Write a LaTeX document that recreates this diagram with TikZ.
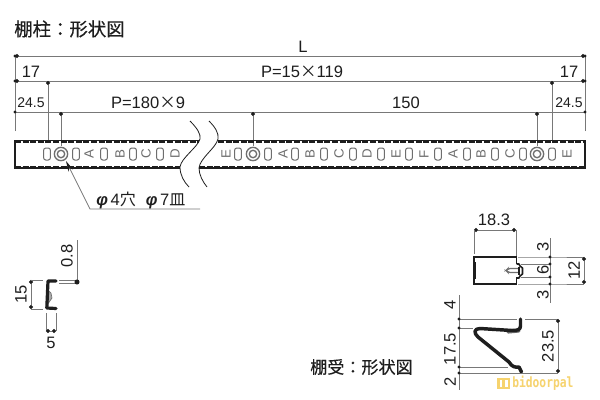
\documentclass[tikz,border=0pt]{standalone}
\usepackage{fontspec}
\usetikzlibrary{arrows.meta}
\setmainfont{Liberation Sans}
\newfontfamily\cjk{Noto Sans CJK JP}
\newfontfamily\cjkb[FakeBold=0.35]{Noto Sans CJK JP}
\definecolor{dimc}{HTML}{787878}
\definecolor{slotc}{HTML}{6E6E6E}
\definecolor{inkc}{HTML}{1E1E1E}
\definecolor{markc}{HTML}{F6D36E}
\tikzset{
  dimline/.style={draw=dimc,line width=0.6pt},
  dd/.style={dimline,{Circle[length=3pt,width=3pt,fill=inkc,color=inkc]}-{Circle[length=3pt,width=3pt,fill=inkc,color=inkc]}},
  dn/.style={dimline,{Circle[length=3pt,width=3pt,fill=inkc,color=inkc]}-},
  lab/.style={inner sep=0pt,text=inkc,font=\fontsize{12.4}{14}\selectfont},
  labs/.style={inner sep=0pt,text=inkc,font=\fontsize{10.5}{12}\selectfont},
  rlab/.style={lab,rotate=90},
  title/.style={inner sep=0pt,text=inkc,font=\fontsize{13.8}{15}\cjkb},
  slot/.style={draw=slotc,line width=0.75pt,rounded corners=1.6pt,minimum width=5pt,minimum height=9pt,inner sep=0pt},
  letter/.style={inner sep=0pt,text=slotc,rotate=90,font=\fontsize{10}{10}\selectfont},
  hole/.style={draw=slotc,line width=1pt,circle,inner sep=0pt},
  rail/.style={draw=inkc,line width=1.3pt,line cap=butt},
  railin/.style={draw=inkc,line width=0.9pt,dash pattern=on 4.5pt off 1.2pt},
  breakline/.style={draw=inkc,line width=0.6pt},
  thickprof/.style={draw=inkc,line width=2.2pt,line join=round,line cap=round}
}
\begin{document}
\begin{tikzpicture}[x=0.75pt,y=-0.75pt]
\useasboundingbox (0,0) rectangle (600,400);
\fill[white] (0,0) rectangle (600,400);

% ---- titles
\node[title,anchor=west] (t1) at (14,29) {棚柱：形状図};
\node[title,anchor=west,font=\fontsize{12.8}{15}\cjkb] (t2) at (310,367) {棚受：形状図};

% ---- reference points, long rail
\coordinate (L1) at (15,56);  \coordinate (R1) at (585,56);
\coordinate (L2) at (15,81);  \coordinate (R2) at (585,81);
\coordinate (L3) at (15,112); \coordinate (R3) at (585,112);
\coordinate (Lb) at (15,131); \coordinate (Rb) at (585,131);
\coordinate (a17) at (48,81);  \coordinate (a17b) at (48,140);
\coordinate (b17) at (552,81); \coordinate (b17b) at (552,140);
\coordinate (h1) at (61,112);  \coordinate (h1b) at (61,146);
\coordinate (h2) at (253,112); \coordinate (h2b) at (253,146);
\coordinate (h3) at (537,112); \coordinate (h3b) at (537,146);

\draw[dimline] (Lb) -- (L1);
\draw[dimline] (Rb) -- (R1);
\draw[dd] (L1) -- (R1);
\draw[dd] (L2) -- (R2);
\draw[dimline] (L3) -- (R3);
\foreach \p in {L1,R1,L2,R2,L3,R3} \fill[inkc] (\p) circle (1.2pt);
\draw[dn] (a17) -- (a17b);
\draw[dn] (b17) -- (b17b);
\draw[dn] (h1) -- (h1b);
\draw[dn] (h2) -- (h2b);
\draw[dn] (h3) -- (h3b);

\node[lab] (lL) at (303,47) {L};
\node[lab] (l17a) at (31,72) {17};
\node[lab] (l17b) at (569,72) {17};
\node[lab] (lp15) at (302,72) {P=15{\cjk ×}119};
\node[labs] (l24a) at (31,103) {24.5};
\node[labs] (l24b) at (569,103) {24.5};
\node[lab] (lp180) at (148,103) {P=180{\cjk ×}9};
\node[lab] (l150) at (406,103) {150};

% ---- rail body
\draw[rail] (199,140.5) -- (15,140.5) -- (15,168) -- (180,168);
\draw[rail] (218,140.5) -- (585,140.5) -- (585,168) -- (199,168);
\draw[railin] (15,142) -- (199,142);
\draw[railin] (15,166.5) -- (180,166.5);
\draw[railin] (218,142) -- (585,142);
\draw[railin] (199,166.5) -- (585,166.5);

% ---- break lines
\draw[breakline] (190,121) .. controls (197,128) and (201,134) .. (200,139) .. controls (198,147) and (181,158) .. (180,167) .. controls (180,175) and (184,182) .. (189,187);
\draw[breakline] (209,121) .. controls (215,127) and (219,133) .. (218,139) .. controls (216,148) and (200,158) .. (199,168) .. controls (199,175) and (203,182) .. (207,187);

% ---- slots, holes, letters
\foreach \x in {47,76,104,133,160,238,268,295,324,353,381,409,438,467,495,523,552}
  \node[slot] (s\x) at (\x,154) {};
\foreach \x in {61,253,537} {
  \node[hole,minimum size=10pt] (ho\x) at (\x,154) {};
  \node[hole,minimum size=5.6pt] (hi\x) at (\x,154) {};
}
\foreach \x/\c in {89/A,120/B,146/C,175/D,226/E,283/A,310/B,339/C,367/D,396/E,424/F,453/A,481/B,510/C,567/E}
  \node[letter] (c\x) at (\x,154) {\c};

% ---- hole leader
\coordinate (la) at (66,161);
\coordinate (lb) at (90,209);
\coordinate (lc) at (200,209);
\draw[dimline,{Stealth[length=8pt,width=3.8pt,color=inkc]}-] (la) -- (lb) -- (lc);
\node[lab,anchor=west] (lphi) at (96,200) {\textbf{\textit{φ}}\,4{\cjk\fontsize{12}{14}\selectfont 穴}\hspace{0.6em}\textbf{\textit{φ}}\,7{\cjk\fontsize{12}{14}\selectfont 皿}};

% ---- small section (left)
\filldraw[fill=slotc!60,draw=slotc,line width=0.5pt] (47.5,290) -- (51,293) -- (52,298) -- (48.5,303) -- cycle;
\draw[thickprof,line width=2.4pt] (56,281) -- (48,281) -- (46.8,308) -- (56,308.5);
\coordinate (p15a) at (31,280); \coordinate (p15b) at (31,309);
\coordinate (e15a) at (43,280); \coordinate (e15b) at (43,309);
\draw[dd] (p15a) -- (p15b);
\draw[dimline] (p15a) -- (e15a);
\draw[dimline] (p15b) -- (e15b);
\node[rlab] (l15) at (21,294) {15};
\coordinate (p08) at (77,282); \coordinate (p08t) at (77,240);
\coordinate (e08a) at (59,280.5); \coordinate (e08b) at (59,283.5);
\draw[dimline] (p08t) -- (p08);
\draw[dimline] (e08a) -- (77,280.5);
\draw[dimline] (e08b) -- (77,283.5);
\fill[inkc] (p08) circle (1.9pt);
\node[rlab] (l08) at (67,256) {0.8};
\coordinate (p5a) at (46,331); \coordinate (p5b) at (56,331);
\coordinate (e5a) at (46,313); \coordinate (e5b) at (56,313);
\draw[dimline] (e5a) -- (p5a);
\draw[dimline] (e5b) -- (p5b);
\draw[dd] (p5a) -- (p5b);
\node[lab] (l5) at (51,343) {5};

% ---- bracket front (right top)
\draw[draw=inkc,line width=1.3pt] (516.5,257) -- (474,257) -- (474,284) -- (516.5,284);
\draw[draw=inkc,line width=0.6pt] (516.5,257) -- (516.5,264);
\draw[draw=inkc,line width=0.6pt] (516.5,277) -- (516.5,284);
\draw[draw=inkc,line width=1.4pt] (475.5,262) -- (475.5,279);
\draw[draw=inkc,line width=1.2pt,line join=round] (516.5,264) -- (519,264) -- (520,266) -- (522.5,268) -- (522.5,274) -- (520,276) -- (519,278) -- (516.5,278);
\draw[draw=slotc,line width=0.9pt,rounded corners=1.5pt] (519,268.5) -- (508,268.5) -- (506,270.5) -- (508,272.5) -- (519,272.5);
\draw[draw=inkc,line width=1.2pt] (519,267) -- (519,275);
\coordinate (w1) at (474,230); \coordinate (w2) at (516,230);
\coordinate (w1b) at (474,254); \coordinate (w2b) at (516,256);
\draw[dd] (w1) -- (w2);
\draw[dimline] (w1) -- (w1b);
\draw[dimline] (w2) -- (w2b);
\node[lab] (l183) at (494,220) {18.3};
\coordinate (vt) at (550,238); \coordinate (vb) at (550,303);
\coordinate (v1) at (550,257); \coordinate (v2) at (550,264);
\coordinate (v3) at (550,277); \coordinate (v4) at (550,284);
\coordinate (u1) at (584,257); \coordinate (u2) at (584,284);
\draw[dimline] (vt) -- (vb);
\draw[dimline] (518,257) -- (v1) -- (u1);
\draw[dimline] (518,284) -- (v4) -- (u2);
\draw[dimline] (521,264) -- (v2);
\draw[dimline] (521,277) -- (v3);
\draw[dd] (u1) -- (u2);
\foreach \p in {v1,v2,v3,v4} \fill[inkc] (\p) circle (1.2pt);
\node[rlab] (l3a) at (543,247) {3};
\node[rlab] (l6) at (543,270) {6};
\node[rlab] (l3b) at (543,295) {3};
\node[rlab] (l12) at (574,270) {12};

% ---- bracket side (right bottom)
\draw[thickprof,draw=slotc,line width=2.4pt] (519,331) -- (508,332);
\draw[thickprof,line width=2.6pt] (520.5,319) -- (520.5,326) .. controls (520.5,330) and (517,330.5) .. (512,330.5) -- (480,328.5) .. controls (474,328.5) and (473.5,333) .. (478,337) -- (509,362) .. controls (512,367) and (515,367.5) .. (519,367) -- (521.5,372);
\coordinate (yt) at (459,295); \coordinate (yb) at (459,390);
\coordinate (y1) at (459,319); \coordinate (y2) at (459,328);
\coordinate (y3) at (459,367); \coordinate (y4) at (459,373);
\coordinate (z1) at (558,319); \coordinate (z2) at (558,373);
\draw[dimline] (yt) -- (yb);
\draw[dimline] (y1) -- (517,319);
\draw[dimline] (525,319) -- (z1);
\draw[dimline] (y2) -- (473,328);
\draw[dimline] (y3) -- (508,367);
\draw[dimline] (y4) -- (z2);
\draw[dd] (z1) -- (z2);
\foreach \p in {y1,y2,y3,y4} \fill[inkc] (\p) circle (1.2pt);
\node[rlab] (l4) at (450,305) {4};
\node[rlab] (l175) at (450,349) {17.5};
\node[rlab] (l235) at (548,346) {23.5};
\node[rlab] (l2) at (450,382) {2};

% ---- watermark
\fill[markc] (497,378) rectangle (510,389);
\fill[white] (499.5,380) rectangle (502,387);
\fill[white] (505,380) rectangle (508,387);
\node[inner sep=0pt,anchor=west,text=markc,font=\fontsize{10.6}{12}\selectfont\fontspec{DejaVu Sans Mono}\bfseries] (wm) at (512,383.5) {\scalebox{0.8}[1]{bidoorpal}};
\end{tikzpicture}
\end{document}
